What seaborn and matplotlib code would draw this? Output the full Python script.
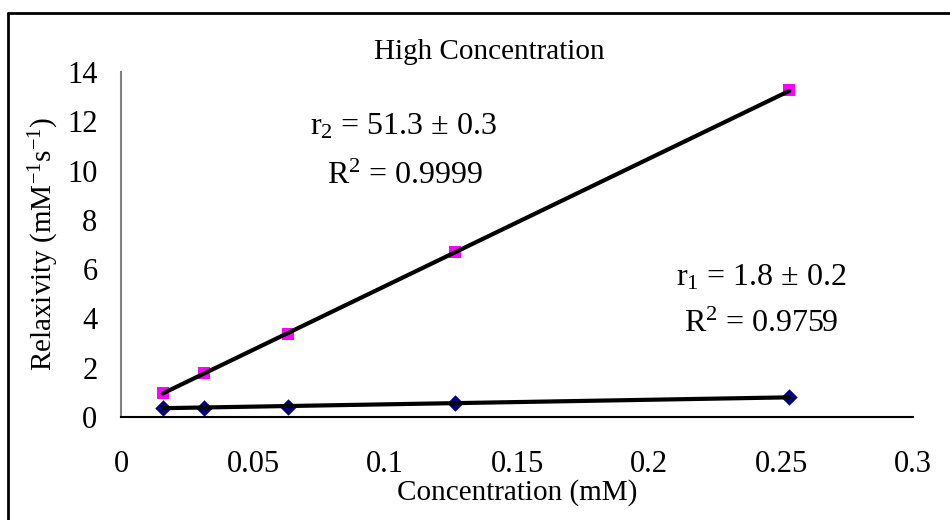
import numpy as np
import pandas as pd
import matplotlib
matplotlib.use("Agg")
import matplotlib.pyplot as plt
from matplotlib.lines import Line2D
import seaborn as sns

# Data
conc = [0.0158, 0.0316, 0.0633, 0.1266, 0.2532]
r1_vals = [0.38, 0.38, 0.42, 0.57, 0.80]
r2_vals = [0.98, 1.80, 3.35, 6.68, 13.25]
x_ticks = [0, 0.05, 0.1, 0.15, 0.2, 0.25, 0.3]
x_tick_labels = ["0", "0.05", "0.1", "0.15", "0.2", "0.25", "0.3"]
y_ticks = [0, 2, 4, 6, 8, 10, 12, 14]

sns.set_theme(style="white")
plt.rcParams['font.family'] = ['Liberation Serif', 'DejaVu Serif']
plt.rcParams['mathtext.fontset'] = 'custom'
plt.rcParams['mathtext.rm'] = 'Liberation Serif'
plt.rcParams['mathtext.it'] = 'Liberation Serif:italic'
plt.rcParams['text.color'] = 'black'
plt.rcParams['axes.labelcolor'] = 'black'

fig = plt.figure(figsize=(9.5, 5.2), dpi=100)
ax = fig.add_axes([121/950, 1-417/520, 792/950, (417-72)/520])

df = pd.DataFrame({"conc": conc, "r1": r1_vals, "r2": r2_vals})

# markers
sns.scatterplot(data=df, x="conc", y="r2", marker="s", s=80, color="#FF00FF",
                edgecolor="#FF00FF", linewidth=0, ax=ax, zorder=2)
sns.scatterplot(data=df, x="conc", y="r1", marker="D", s=70, color="#000080",
                edgecolor="#000080", linewidth=0, ax=ax, zorder=2)

# linear fits (trendlines)
xs = np.array(conc)
for col in ["r2", "r1"]:
    p = np.polyfit(xs, df[col].values, 1)
    fit = pd.DataFrame({"x": [xs.min(), xs.max()], "y": np.polyval(p, [xs.min(), xs.max()])})
    sns.lineplot(data=fit, x="x", y="y", color="black", linewidth=3, ax=ax, zorder=3)

ax.set_xlim(0, 0.3)
ax.set_ylim(0, 14)
ax.set_xticks(x_ticks)
ax.set_xticklabels(x_tick_labels)
ax.set_yticks(y_ticks)
ax.tick_params(axis='both', direction='in', length=7, width=1.2, color='#808080',
               labelsize=22, labelcolor='black')
ax.tick_params(axis='x', pad=24)
ax.tick_params(axis='y', pad=17)
for s in ["top", "right"]:
    ax.spines[s].set_visible(False)
ax.spines["left"].set_color("#808080")
ax.spines["left"].set_linewidth(1.5)
ax.spines["bottom"].set_color("black")
ax.spines["bottom"].set_linewidth(1.5)

ax.set_xlabel("Concentration (mM)", fontsize=21, labelpad=0)
ax.set_ylabel("Relaxivity (mM$^{-1}$s$^{-1}$)", fontsize=21, labelpad=4)

fig.text(489/950, 1-52/520, "High Concentration", ha="center", va="center", fontsize=21)
fig.text(404/950, 1-127/520, "r$_2$ = 51.3 ± 0.3", fontsize=23, ha="center", va="center")
fig.text(405/950, 1-176/520, "R$^2$ = 0.9999", fontsize=23, ha="center", va="center")
fig.text(761/950, 1-278/520, "r$_1$ = 1.8 ± 0.2", fontsize=23, ha="center", va="center")
fig.text(761/950, 1-324/520, "R$^2$ = 0.9759", fontsize=23, ha="center", va="center")

# outer frame (left and top edges visible)
fig.add_artist(Line2D([8/950, 8/950], [0, 1-13/520], transform=fig.transFigure, color="black", linewidth=2))
fig.add_artist(Line2D([8/950, 1], [1-13/520, 1-13/520], transform=fig.transFigure, color="black", linewidth=2))

fig.savefig("out.png", dpi=100)
